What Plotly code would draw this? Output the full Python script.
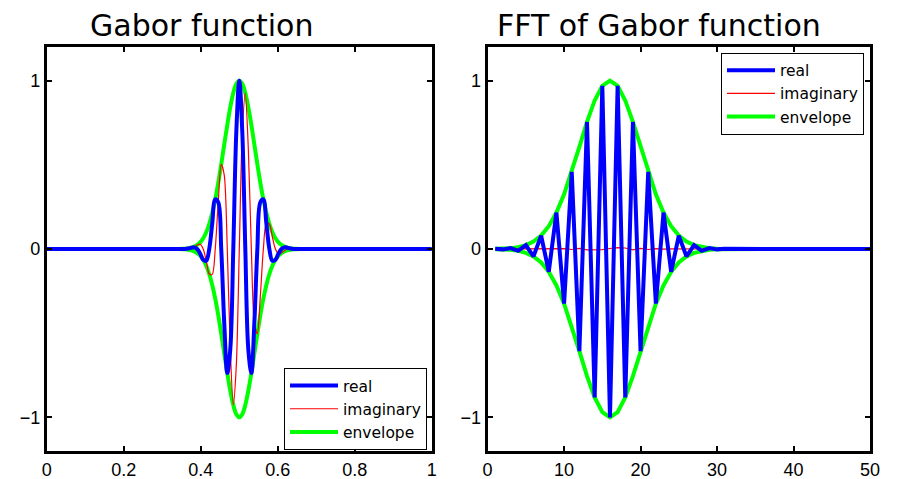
import plotly.graph_objects as go

# ---------------- Left panel: Gabor function (time domain) ----------------
gabor_x = [0.0,
           0.3438, 0.3516, 0.3594, 0.3672, 0.3750, 0.3828, 0.3906, 0.3984, 0.4063, 0.4141,
           0.4219, 0.4297, 0.4375, 0.4453, 0.4531, 0.4609, 0.4688, 0.4766, 0.4844, 0.4922,
           0.5000,
           0.5078, 0.5156, 0.5234, 0.5313, 0.5391, 0.5469, 0.5547, 0.5625, 0.5703, 0.5781,
           0.5859, 0.5938, 0.6016, 0.6094, 0.6172, 0.6250, 0.6328, 0.6406, 0.6484, 0.6563,
           1.0]

gabor_real = [0.0,
              -0.0005, -0.0007, 0.0, 0.0029, 0.0076, 0.0097, 0.0, -0.0281, -0.0641, -0.0704,
              0.0, 0.1508, 0.2950, 0.2777, 0.0, -0.4389, -0.7370, -0.5956, 0.0, 0.6937,
              1.0,
              0.6937, 0.0, -0.5956, -0.7370, -0.4389, 0.0, 0.2777, 0.2950, 0.1508, 0.0,
              -0.0704, -0.0641, -0.0281, 0.0, 0.0097, 0.0076, 0.0029, 0.0, -0.0007, -0.0005,
              0.0]

gabor_imag = [0.0,
              0.0, -0.0007, -0.0021, -0.0029, 0.0, 0.0097, 0.0238, 0.0281, 0.0, -0.0704,
              -0.1485, -0.1508, 0.0, 0.2777, 0.5033, 0.4389, 0.0, -0.5956, -0.9265, -0.6937,
              0.0,
              0.6937, 0.9265, 0.5956, 0.0, -0.4389, -0.5033, -0.2777, 0.0, 0.1508, 0.1485,
              0.0704, 0.0, -0.0281, -0.0238, -0.0097, 0.0, 0.0029, 0.0021, 0.0007, 0.0,
              0.0]

gabor_env = [0.0,
             0.0005, 0.0010, 0.0021, 0.0040, 0.0076, 0.0137, 0.0238, 0.0398, 0.0641, 0.0995,
             0.1485, 0.2133, 0.2950, 0.3927, 0.5033, 0.6207, 0.7370, 0.8423, 0.9265, 0.9811,
             1.0,
             0.9811, 0.9265, 0.8423, 0.7370, 0.6207, 0.5033, 0.3927, 0.2950, 0.2133, 0.1485,
             0.0995, 0.0641, 0.0398, 0.0238, 0.0137, 0.0076, 0.0040, 0.0021, 0.0010, 0.0005,
             0.0]

# ---------------- Right panel: FFT of Gabor function ----------------
fft_x = list(range(1, 51))

fft_real = [0.0009, -0.0022, 0.0051, -0.0111, 0.0228, -0.0439, 0.0796, -0.1353, 0.2163, -0.3247,
            0.4578, -0.6065, 0.7548, -0.8825, 0.9692, -1.0, 0.9692, -0.8825, 0.7548, -0.6065,
            0.4578, -0.3247, 0.2163, -0.1353, 0.0796, -0.0439, 0.0228, -0.0111, 0.0051, -0.0022,
            0.0009, -0.0003, 0.0, 0.0, 0.0, 0.0, 0.0, 0.0, 0.0, 0.0,
            0.0, 0.0, 0.0, 0.0, 0.0, 0.0, 0.0, 0.0, 0.0, 0.0]

fft_imag = [0.0, 0.0, 0.0, 0.0, 0.0, 0.0, 0.0, 0.001, -0.001, 0.002,
            -0.003, 0.004, -0.005, -0.006, -0.004, 0.003, 0.008, 0.006, -0.005, 0.004,
            -0.003, 0.002, -0.001, 0.001, 0.0, 0.0, 0.0, 0.0, 0.0, 0.0,
            0.0, 0.0, 0.0, 0.0, 0.0, 0.0, 0.0, 0.0, 0.0, 0.0,
            0.0, 0.0, 0.0, 0.0, 0.0, 0.0, 0.0, 0.0, 0.0, 0.0]

fft_env = [0.0009, 0.0022, 0.0051, 0.0111, 0.0228, 0.0439, 0.0796, 0.1353, 0.2163, 0.3247,
           0.4578, 0.6065, 0.7548, 0.8825, 0.9692, 1.0, 0.9692, 0.8825, 0.7548, 0.6065,
           0.4578, 0.3247, 0.2163, 0.1353, 0.0796, 0.0439, 0.0228, 0.0111, 0.0051, 0.0022,
           0.0009, 0.0003, 0.0, 0.0, 0.0, 0.0, 0.0, 0.0, 0.0, 0.0,
           0.0, 0.0, 0.0, 0.0, 0.0, 0.0, 0.0, 0.0, 0.0, 0.0]

titles = ["Gabor function", "FFT of Gabor function"]
series_names = ["real", "imaginary", "envelope"]
left_xticks = [0, 0.2, 0.4, 0.6, 0.8, 1]
left_xticktext = ["0", "0.2", "0.4", "0.6", "0.8", "1"]
right_xticks = [0, 10, 20, 30, 40, 50]
yticks = [-1, 0, 1]

BLUE = "#0000FF"
RED = "#FF0000"
GREEN = "#00FF00"

fig = go.Figure()

neg_gabor_env = [-v for v in gabor_env]
neg_fft_env = [-v for v in fft_env]

# drawing order: envelope (bottom), imaginary, real (top); legend order via legendrank
# left panel traces
fig.add_trace(go.Scatter(x=gabor_x, y=gabor_env, name=series_names[2], mode="lines",
                         line=dict(color=GREEN, width=4, shape="spline", smoothing=1.0),
                         xaxis="x", yaxis="y", legend="legend", legendrank=3))
fig.add_trace(go.Scatter(x=gabor_x, y=neg_gabor_env, name=series_names[2], mode="lines",
                         line=dict(color=GREEN, width=4, shape="spline", smoothing=1.0),
                         xaxis="x", yaxis="y", showlegend=False))
fig.add_trace(go.Scatter(x=gabor_x, y=gabor_imag, name=series_names[1], mode="lines",
                         line=dict(color=RED, width=1.2, shape="spline", smoothing=0.8),
                         xaxis="x", yaxis="y", legend="legend", legendrank=2))
fig.add_trace(go.Scatter(x=gabor_x, y=gabor_real, name=series_names[0], mode="lines",
                         line=dict(color=BLUE, width=4, shape="spline", smoothing=1.0),
                         xaxis="x", yaxis="y", legend="legend", legendrank=1))

# right panel traces
fig.add_trace(go.Scatter(x=fft_x, y=fft_env, name=series_names[2], mode="lines",
                         line=dict(color=GREEN, width=4),
                         xaxis="x2", yaxis="y2", legend="legend2", legendrank=3))
fig.add_trace(go.Scatter(x=fft_x, y=neg_fft_env, name=series_names[2], mode="lines",
                         line=dict(color=GREEN, width=4),
                         xaxis="x2", yaxis="y2", showlegend=False))
fig.add_trace(go.Scatter(x=fft_x, y=fft_imag, name=series_names[1], mode="lines",
                         line=dict(color=RED, width=1.2),
                         xaxis="x2", yaxis="y2", legend="legend2", legendrank=2))
fig.add_trace(go.Scatter(x=fft_x, y=fft_real, name=series_names[0], mode="lines",
                         line=dict(color=BLUE, width=4),
                         xaxis="x2", yaxis="y2", legend="legend2", legendrank=1))

W, H = 897, 479
L_dom = [46.8 / W, 431.8 / W]
R_dom = [487.6 / W, 870.0 / W]
Y_dom = [(H - 451) / H, (H - 47) / H]

tick_font = dict(family="Liberation Sans, Arial, Helvetica, sans-serif", size=18, color="black")
axis_common = dict(showline=True, linewidth=3, linecolor="black", mirror="ticks",
                   ticks="inside", ticklen=5, tickwidth=1.5, tickcolor="black",
                   showgrid=False, zeroline=False, tickfont=tick_font, automargin=False)

legend_font = dict(family="DejaVu Sans, Liberation Sans, Arial, sans-serif", size=15.5, color="black")
title_font = dict(family="Comic Sans MS, DejaVu Sans, sans-serif", size=30, color="black")

fig.update_layout(
    width=W, height=H,
    margin=dict(l=0, r=0, t=0, b=0, autoexpand=False),
    paper_bgcolor="white", plot_bgcolor="white",
    xaxis=dict(domain=L_dom, range=[0, 1], tickvals=left_xticks, ticktext=left_xticktext,
               anchor="y", **axis_common),
    yaxis=dict(domain=Y_dom, range=[-1.2, 1.2], tickvals=yticks, anchor="x", **axis_common),
    xaxis2=dict(domain=R_dom, range=[0, 50], tickvals=right_xticks, anchor="y2", **axis_common),
    yaxis2=dict(domain=Y_dom, range=[-1.2, 1.2], tickvals=yticks, anchor="x2", **axis_common),
    legend=dict(x=427 / W, y=(H - 450) / H, xanchor="right", yanchor="bottom",
                bgcolor="white", bordercolor="black", borderwidth=1,
                font=legend_font, itemwidth=48, tracegroupgap=0),
    legend2=dict(x=864 / W, y=(H - 52.7) / H, xanchor="right", yanchor="top",
                 bgcolor="white", bordercolor="black", borderwidth=1,
                 font=legend_font, itemwidth=48, tracegroupgap=0),
    annotations=[
        dict(text=titles[0], x=201 / W, y=(H - 25.5) / H, xref="paper", yref="paper",
             xanchor="center", yanchor="middle", showarrow=False, font=title_font),
        dict(text=titles[1], x=659 / W, y=(H - 25.5) / H, xref="paper", yref="paper",
             xanchor="center", yanchor="middle", showarrow=False, font=title_font),
    ],
)

fig.write_html("out.html", config={"displayModeBar": False},
               post_script="document.body.style.margin='0';document.body.style.padding='0';")
